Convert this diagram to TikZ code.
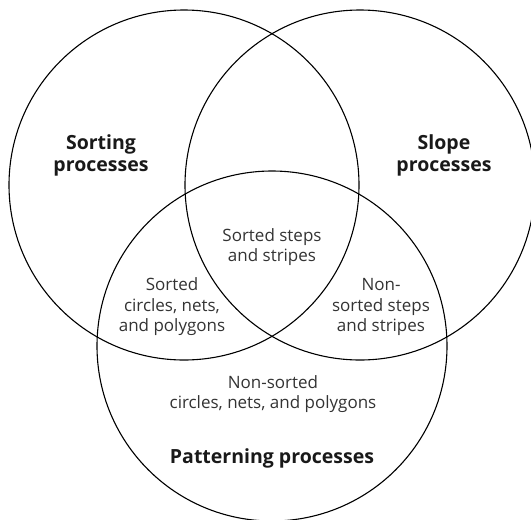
\documentclass[tikz,border=0pt]{standalone}
\usepackage{fontspec}
\setmainfont{Open Sans}
\begin{document}
\begin{tikzpicture}[x=1pt,y=-1pt,
  ring/.style={draw=black,line width=1.1pt},
  title/.style={font=\fontsize{19.5}{22}\selectfont\bfseries,align=center,text=black!90},
  region/.style={font=\fontsize{17}{20.5}\selectfont,align=center,text=black!80}]
\useasboundingbox (0,0) rectangle (531,520);
\clip (0,0) rectangle (531,520);
\node[ring,circle,minimum size=350pt,inner sep=0pt] (L) at (184,185) {};
\node[ring,circle,minimum size=350pt,inner sep=0pt] (R) at (360,185) {};
\node[ring,circle,minimum size=350pt,inner sep=0pt] (B) at (272,346) {};
\node[title] (sort) at (101,155) {Sorting\\processes};
\node[title] (slope) at (444,155) {Slope\\processes};
\node[title] (pat) at (272,458) {Patterning processes};
\node[region] (ss) at (272,247) {Sorted steps\\and stripes};
\node[region] (sc) at (172,307) {Sorted\\circles, nets,\\and polygons};
\node[region] (ns) at (381,307) {Non-\\sorted steps\\and stripes};
\node[region] (nc) at (273,394) {Non-sorted\\circles, nets, and polygons};
\end{tikzpicture}
\end{document}
